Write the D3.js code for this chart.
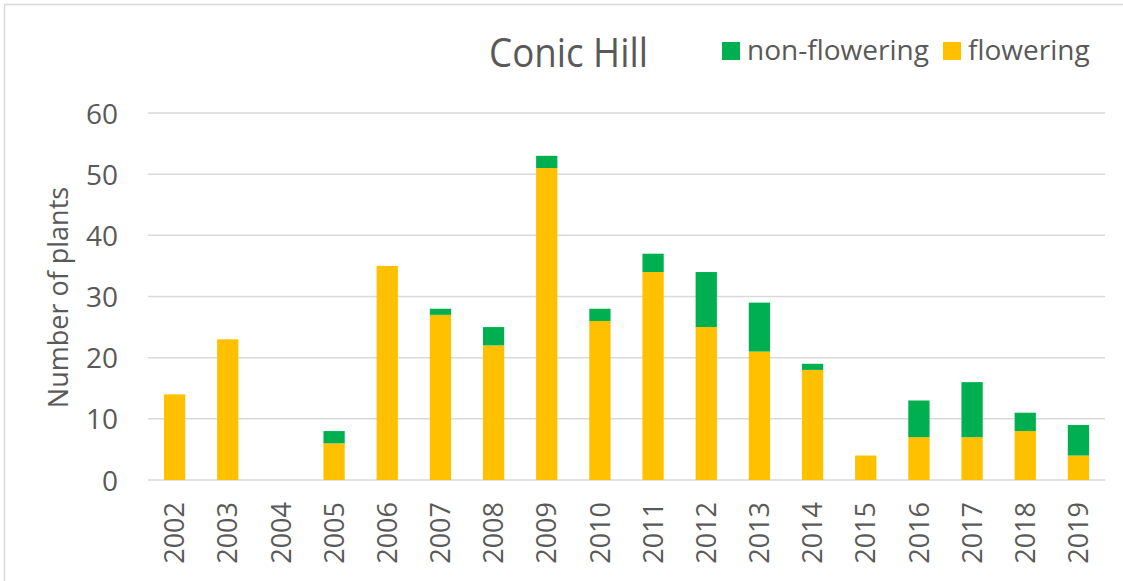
<!DOCTYPE html>
<html>
<head>
<meta charset="utf-8">
<script src="https://cdn.jsdelivr.net/npm/d3@7"></script>
<style>
  body { margin: 0; background: #fff; }
  text { font-family: "Liberation Sans Narrow", "Open Sans", sans-serif; fill: #595959; }
</style>
</head>
<body>
<svg width="1123" height="581"></svg>
<script>
var svg = d3.select("svg");

var width = 1123;
var height = 581;

// data
var years = ["2002", "2003", "2004", "2005", "2006", "2007", "2008", "2009", "2010",
  "2011", "2012", "2013", "2014", "2015", "2016", "2017", "2018", "2019"];
var flowering = [14, 23, 0, 6, 35, 27, 22, 51, 26, 34, 25, 21, 18, 4, 7, 7, 8, 4];
var nonFlowering = [0, 0, 0, 2, 0, 1, 3, 2, 2, 3, 9, 8, 1, 0, 6, 9, 3, 5];
var yTicks = [0, 10, 20, 30, 40, 50, 60];

var colors = { flowering: "#ffc000", nonflowering: "#00b050" };

var margin = { left: 148, right: 18, top: 113, bottom: 101 };

// outer chart frame
svg.append("rect")
  .attr("x", 4.5)
  .attr("y", 4.5)
  .attr("width", width + 10)
  .attr("height", height + 10)
  .attr("fill", "none")
  .attr("stroke", "#d9d9d9")
  .attr("stroke-width", 1.5);

var rows = years.map(function(y, i) {
  return { year: y, flowering: flowering[i], nonflowering: nonFlowering[i] };
});

var x = d3.scaleBand()
  .domain(years)
  .range([margin.left, width - margin.right])
  .paddingInner(0.6)
  .paddingOuter(0.3);

var y = d3.scaleLinear()
  .domain([0, 60])
  .range([height - margin.bottom, margin.top]);

// gridlines
svg.append("g")
  .selectAll("line")
  .data(yTicks)
  .enter().append("line")
  .attr("x1", margin.left)
  .attr("x2", width - margin.right)
  .attr("y1", function(d) { return y(d); })
  .attr("y2", function(d) { return y(d); })
  .attr("stroke", "#d9d9d9")
  .attr("stroke-width", 1.5);

var stack = d3.stack().keys(["flowering", "nonflowering"]);
var series = stack(rows);

svg.append("g")
  .selectAll("g")
  .data(series)
  .enter().append("g")
  .attr("fill", function(d) { return colors[d.key]; })
  .selectAll("rect")
  .data(function(d) { return d; })
  .enter().append("rect")
  .attr("x", function(d) { return x(d.data.year); })
  .attr("width", x.bandwidth())
  .attr("y", function(d) { return y(d[1]); })
  .attr("height", function(d) { return y(d[0]) - y(d[1]); });

// y axis labels
var yAxis = svg.append("g")
  .attr("transform", "translate(" + (margin.left - 30) + ",0)")
  .call(d3.axisLeft(y).tickValues(yTicks).tickSize(0).tickPadding(0));
yAxis.select(".domain").remove();
yAxis.attr("font-family", null);
yAxis.selectAll("text")
  .attr("font-size", 28)
  .attr("dy", "0.36em");

// x axis labels, rotated
var xAxis = svg.append("g")
  .attr("transform", "translate(0," + (height - margin.bottom) + ")")
  .call(d3.axisBottom(x).tickSize(0).tickPadding(0));
xAxis.select(".domain").remove();
xAxis.attr("font-family", null);
xAxis.selectAll("text")
  .attr("font-size", 27)
  .attr("text-anchor", "end")
  .attr("transform", "translate(0,22) rotate(-90)")
  .attr("x", 0)
  .attr("y", 0)
  .attr("dy", "0.36em");

// axis title
svg.append("text")
  .attr("transform", "translate(68," + ((y(0) + y(60)) / 2 + 1) + ") rotate(-90)")
  .attr("text-anchor", "middle")
  .attr("font-size", 27)
  .text("Number of plants");

// title
svg.append("text")
  .attr("x", 489)
  .attr("y", 67)
  .attr("font-size", 41)
  .attr("textLength", 159)
  .attr("lengthAdjust", "spacingAndGlyphs")
  .text("Conic Hill");

// legend
var legendItems = [
  { key: "nonflowering", label: "non-flowering", x: 722 },
  { key: "flowering", label: "flowering", x: 943 }
];
var legend = svg.append("g")
  .selectAll("g")
  .data(legendItems)
  .enter().append("g")
  .attr("transform", function(d) { return "translate(" + d.x + ",42)"; });
legend.append("rect")
  .attr("width", 18)
  .attr("height", 18)
  .attr("fill", function(d) { return colors[d.key]; });
legend.append("text")
  .attr("x", 25)
  .attr("y", 18)
  .attr("font-size", 28)
  .text(function(d) { return d.label; });
</script>
</body>
</html>
